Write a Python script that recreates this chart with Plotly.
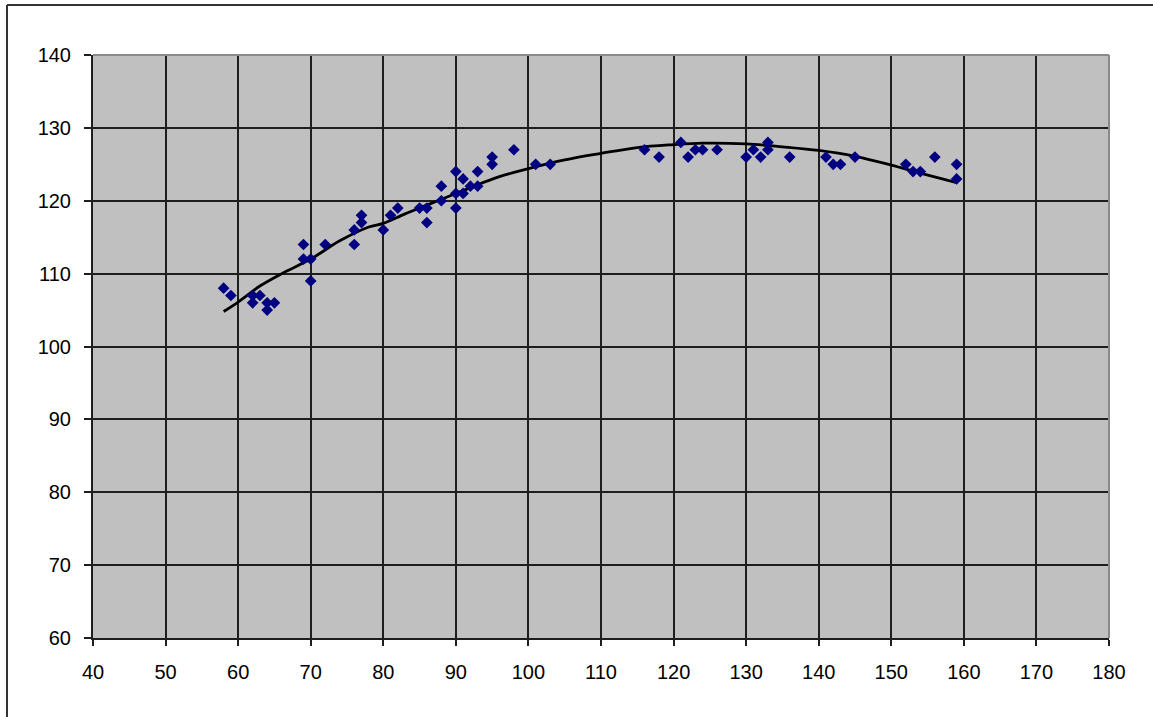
import plotly.graph_objects as go

# Scatter data
pts_x = [58, 59, 62, 62, 63, 64, 64, 65, 69, 69, 70, 70, 72, 76, 76, 77, 77, 80, 81, 82,
         85, 86, 86, 88, 88, 90, 90, 90, 91, 91, 92, 93, 93, 95, 95, 98, 101, 103,
         116, 118, 121, 122, 123, 124, 126, 130, 131, 132, 133, 133, 136,
         141, 142, 143, 145, 152, 153, 154, 156, 159, 159]
pts_y = [108, 107, 107, 106, 107, 106, 105, 106, 114, 112, 112, 109, 114, 114, 116, 117, 118, 116, 118, 119,
         119, 119, 117, 122, 120, 124, 121, 119, 123, 121, 122, 124, 122, 126, 125, 127, 125, 125,
         127, 126, 128, 126, 127, 127, 127, 126, 127, 126, 128, 127, 126,
         126, 125, 125, 126, 125, 124, 124, 126, 125, 123]

# Trend line
trend_x = [58, 60, 63, 66, 70, 74, 78, 80, 83, 86, 90, 92, 96, 100, 105, 110, 115, 120,
           124, 130, 135, 140, 145, 150, 154, 159]
trend_y = [104.8, 106.1, 108.3, 110.0, 112.0, 114.5, 116.4, 116.9, 118.2, 119.4, 121.0, 121.8,
           123.3, 124.4, 125.6, 126.5, 127.3, 127.7, 127.9, 127.8, 127.4, 126.9, 126.1, 124.9,
           123.8, 122.5]

W, H = 1153, 717
L, R, T, B = 93, 44, 55, 79
pw, ph = W - L - R, H - T - B

fig = go.Figure()
fig.add_trace(go.Scatter(x=trend_x, y=trend_y, mode="lines",
                         line=dict(color="black", width=2.8, shape="spline"),
                         showlegend=False, hoverinfo="skip"))
fig.add_trace(go.Scatter(x=pts_x, y=pts_y, mode="markers",
                         marker=dict(symbol="diamond", size=9, color="#000080",
                                     line=dict(width=0)),
                         showlegend=False))

font = dict(family="Liberation Sans, Arial, sans-serif", size=20, color="black")
fig.update_layout(
    width=W, height=H,
    margin=dict(l=L, r=R, t=T, b=B, pad=0),
    paper_bgcolor="white", plot_bgcolor="#C0C0C0",
    font=font,
    xaxis=dict(range=[40, 180], dtick=10, tick0=40, showgrid=True, gridcolor="#1e1e1e",
               gridwidth=2, zeroline=False, showline=True, linecolor="#1e1e1e", linewidth=2,
               ticks="outside", ticklen=6, tickwidth=2, tickcolor="#1e1e1e",
               ticklabelstandoff=9, tickfont=font),
    yaxis=dict(range=[60, 140], dtick=10, tick0=60, showgrid=True, gridcolor="#1e1e1e",
               gridwidth=2, zeroline=False, showline=True, linecolor="#1e1e1e", linewidth=2,
               ticks="outside", ticklen=7, tickwidth=2, tickcolor="#1e1e1e",
               ticklabelstandoff=9, tickfont=font),
    shapes=[
        # plot area top/right border (gray)
        dict(type="line", xref="paper", yref="paper", x0=0, x1=1, y0=1, y1=1,
             line=dict(color="#8a8a8a", width=2), layer="above"),
        dict(type="line", xref="paper", yref="paper", x0=1, x1=1, y0=0, y1=1,
             line=dict(color="#8a8a8a", width=2), layer="above"),
        # outer chart frame (left and top edges)
        dict(type="line", xref="paper", yref="paper",
             x0=(7 - L) / pw, x1=(W + 10 - L) / pw,
             y0=1 + (T - 5) / ph, y1=1 + (T - 5) / ph,
             line=dict(color="#333333", width=2)),
        dict(type="line", xref="paper", yref="paper",
             x0=(7 - L) / pw, x1=(7 - L) / pw,
             y0=1 + (T - 5) / ph, y1=-(B + 10) / ph,
             line=dict(color="#333333", width=2)),
    ],
)

fig.write_html("out.html")
